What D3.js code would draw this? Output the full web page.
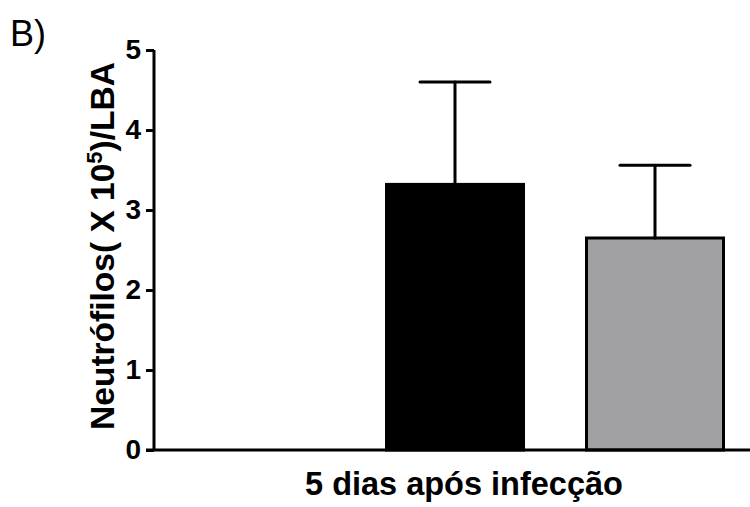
<!DOCTYPE html>
<html>
<head>
<meta charset="utf-8">
<script src="https://cdn.jsdelivr.net/npm/d3@7"></script>
<style>
  body { margin: 0; background: #fff; }
  svg { display: block; font-family: "Liberation Sans", Arial, sans-serif; }
</style>
</head>
<body>
<script>
// data
const groups = ['controle', 'grupo A', 'grupo B'];
const means = [0.0, 3.32, 2.65];
const sems = [0.0, 1.28, 0.91];
const fills = ['#ffffff', '#000000', '#a09fa4'];
const yTicks = [0, 1, 2, 3, 4, 5];

const width = 750, height = 507;
const svg = d3.select('body').append('svg')
  .attr('width', width)
  .attr('height', height);

const x = d3.scaleBand()
  .domain(groups)
  .range([155, 755])
  .paddingInner(0.315)
  .paddingOuter(0.1575);

const y = d3.scaleLinear()
  .domain([0, 5])
  .range([450, 50]);

// bars
svg.selectAll('rect.bar')
  .data(groups)
  .enter()
  .append('rect')
  .attr('class', 'bar')
  .attr('x', d => x(d))
  .attr('y', (d, i) => y(means[i]) - (means[i] === 0 ? 1 : 0))
  .attr('width', x.bandwidth())
  .attr('height', (d, i) => y(0) - y(means[i]))
  .attr('fill', (d, i) => fills[i])
  .attr('stroke', '#000')
  .attr('stroke-width', 3);

// error bars (upper only)
const err = svg.selectAll('g.err')
  .data(groups.filter((d, i) => sems[i] > 0))
  .enter()
  .append('g')
  .attr('class', 'err')
  .attr('stroke', '#000')
  .attr('stroke-width', 3)
  .attr('stroke-linecap', 'round');

err.append('line')
  .attr('x1', d => x(d) + x.bandwidth() / 2)
  .attr('x2', d => x(d) + x.bandwidth() / 2)
  .attr('y1', d => y(means[groups.indexOf(d)]))
  .attr('y2', d => { const i = groups.indexOf(d); return y(means[i] + sems[i]); });

err.append('line')
  .attr('x1', d => x(d) + x.bandwidth() / 2 - 35)
  .attr('x2', d => x(d) + x.bandwidth() / 2 + 35)
  .attr('y1', d => { const i = groups.indexOf(d); return y(means[i] + sems[i]); })
  .attr('y2', d => { const i = groups.indexOf(d); return y(means[i] + sems[i]); });

// y axis
const yAxis = svg.append('g')
  .attr('transform', 'translate(154,0)')
  .call(d3.axisLeft(y).tickValues(yTicks).tickSize(8).tickPadding(5).tickFormat(d3.format('d')));
yAxis.select('.domain').attr('d', 'M0,' + y(5) + 'V' + y(0)).attr('stroke-width', 3);
yAxis.selectAll('.tick line').attr('stroke-width', 3);
yAxis.selectAll('.tick text')
  .attr('font-size', 28)
  .attr('font-weight', 'bold')
  .attr('font-family', '"Liberation Sans", Arial, sans-serif')
  .attr('fill', '#000');

// x axis line
svg.append('line')
  .attr('x1', 146)
  .attr('x2', width)
  .attr('y1', y(0))
  .attr('y2', y(0))
  .attr('stroke', '#000')
  .attr('stroke-width', 3);

// labels
svg.append('text')
  .attr('x', 464)
  .attr('y', 495)
  .attr('text-anchor', 'middle')
  .attr('font-size', 32.5)
  .attr('font-weight', 'bold')
  .text('5 dias após infecção');

const yl = svg.append('text')
  .attr('transform', 'translate(114,246) rotate(-90)')
  .attr('text-anchor', 'middle')
  .attr('font-size', 33.5)
  .attr('font-weight', 'bold');
yl.append('tspan').text('Neutrófilos( X 10');
yl.append('tspan').attr('dy', -12).attr('font-size', 22).text('5');
yl.append('tspan').attr('dy', 12).text(')/LBA');

svg.append('text')
  .attr('x', 10)
  .attr('y', 46)
  .attr('font-size', 36)
  .text('B)');
</script>
</body>
</html>
